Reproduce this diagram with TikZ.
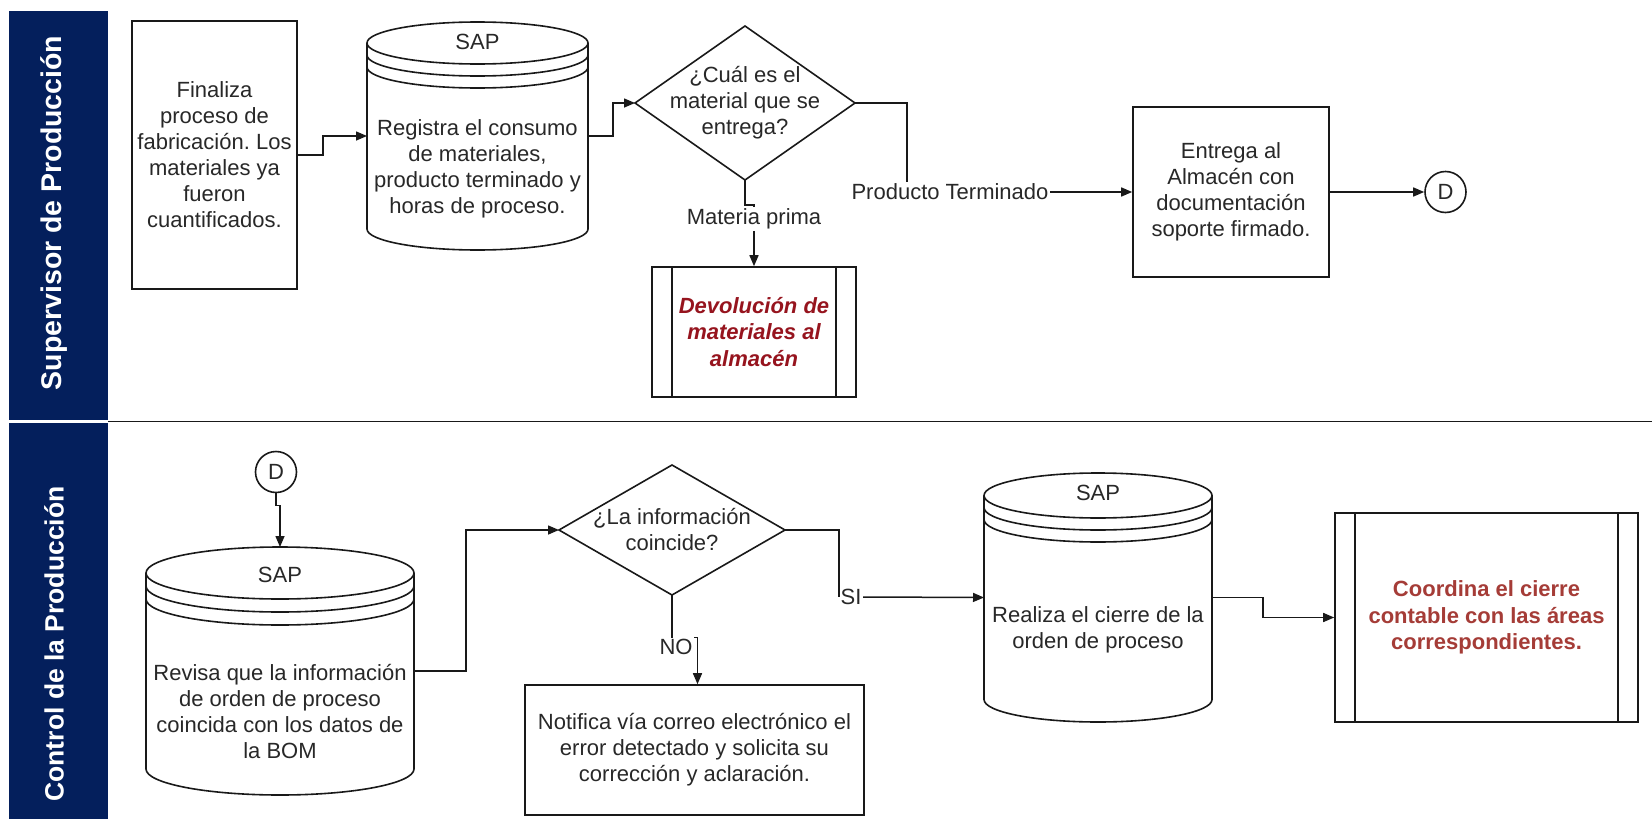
\documentclass[tikz,border=0pt]{standalone}
\usepackage{fontspec}
\setmainfont{Liberation Sans}
\usetikzlibrary{arrows.meta,calc}
\frenchspacing

\definecolor{lanenavy}{RGB}{4,31,92}
\definecolor{inkgray}{RGB}{40,40,40}
\definecolor{linegray}{RGB}{25,25,25}
\definecolor{subred}{RGB}{150,20,30}
\definecolor{subredlight}{RGB}{165,60,55}

\tikzset{
  body/.style={font=\fontsize{22}{26}\selectfont, text=inkgray, align=center, inner sep=0pt},
  outline/.style={draw=linegray, line width=1.6pt},
  procbox/.style={outline, body},
  conn/.style={draw=linegray, line width=1.5pt},
  arr/.style={conn, -{Triangle[length=11pt,width=9pt]}},
  lbl/.style={body, fill=white, inner sep=1.5pt},
  lanetitle/.style={rotate=90, text=white},
  offpage/.style={circle, outline, body, minimum size=41pt, inner sep=0pt},
  anchorbox/.style={rectangle, inner sep=0pt, outer sep=0pt},
}

% data store: #1 centre x, #2 top, #3 half width, #4 bottom, #5 cap radius, #6 band gap
\newcommand{\datastore}[6]{%
  \draw[outline] (#1-#3,#2+#5) -- (#1-#3,#4-#5)
    arc[start angle=180,end angle=360,x radius=#3pt,y radius=#5pt]
    -- (#1+#3,#2+#5);
  \draw[outline] (#1,#2+#5) ellipse[x radius=#3pt,y radius=#5pt];
  \draw[outline] (#1-#3,#2+#5+#6)
    arc[start angle=180,end angle=360,x radius=#3pt,y radius=#5pt];
  \draw[outline] (#1-#3,#2+#5+2*#6)
    arc[start angle=180,end angle=360,x radius=#3pt,y radius=#5pt];
}

\begin{document}
\begin{tikzpicture}[x=1pt,y=-1pt]
\useasboundingbox (0,0) rectangle (1652,819);
\fill[white] (0,0) rectangle (1652,819);

% swimlanes
\fill[lanenavy] (9,11) rectangle (108,420);
\fill[lanenavy] (9,423) rectangle (108,819);
\draw[draw=linegray, line width=1.5pt] (108,421.5) -- (1652,421.5);
\node[lanetitle, font=\fontsize{28.5}{30}\selectfont\bfseries] (lane1) at (54,213)
  {Supervisor de Producción};
\node[lanetitle, font=\fontsize{26.5}{30}\selectfont\bfseries] (lane2) at (54,644)
  {Control de la Producción};

% ---- lane 1 ----
\node[procbox, minimum width=165pt, minimum height=268pt] (fin) at (214.5,155)
  {Finaliza\\proceso de\\fabricación. Los\\materiales ya\\fueron\\cuantificados.};

\datastore{477.5}{22}{110.5}{250}{21}{12}
\node[anchorbox, minimum width=221pt, minimum height=228pt] (reg) at (477.5,136) {};
\node[body] (regsap) at (477.5,42) {SAP};
\node[body] (regtxt) at (477.5,169)
  {Registra el consumo\\de materiales,\\producto terminado y\\horas de proceso.};

\node[anchorbox, body, minimum width=220pt, minimum height=154pt] (q1) at (745,103)
  {¿Cuál es el\\material que se\\entrega?};
\draw[outline] (q1.north) -- (q1.east) -- (q1.south) -- (q1.west) -- cycle;

\node[procbox, minimum width=204pt, minimum height=130pt, text=subred,
      font=\fontsize{22}{26.5}\selectfont\bfseries\itshape] (dev) at (754,332)
  {Devolución de\\materiales al\\almacén};
\draw[outline] ([xshift=21pt]dev.north west) -- ([xshift=21pt]dev.south west);
\draw[outline] ([xshift=-21pt]dev.north east) -- ([xshift=-21pt]dev.south east);

\node[procbox, minimum width=196pt, minimum height=170pt] (ent) at (1231,192)
  {Entrega al\\Almacén con\\documentación\\soporte firmado.};

\node[offpage] (d1) at (1445.5,192) {D};

% ---- lane 2 ----
\node[offpage] (d2) at (276,472) {D};

\datastore{280}{547}{134}{795}{26}{13}
\node[anchorbox, minimum width=268pt, minimum height=248pt] (rev) at (280,671) {};
\node[body] (revsap) at (280,575) {SAP};
\node[body] (revtxt) at (280,711)
  {Revisa que la información\\de orden de proceso\\coincida con los datos de\\la BOM};

\node[anchorbox, body, minimum width=226pt, minimum height=130pt] (q2) at (672,530)
  {¿La información\\coincide?};
\draw[outline] (q2.north) -- (q2.east) -- (q2.south) -- (q2.west) -- cycle;

\node[procbox, minimum width=339pt, minimum height=130pt] (noti) at (694.5,750)
  {Notifica vía correo electrónico el\\error detectado y solicita su\\corrección y aclaración.};

\datastore{1098}{473}{114}{722}{22.5}{12}
\node[anchorbox, minimum width=228pt, minimum height=249pt] (cie) at (1098,597.5) {};
\node[body] (ciesap) at (1098,493) {SAP};
\node[body] (cietxt) at (1098,630) {Realiza el cierre de la\\orden de proceso};

\node[procbox, minimum width=303pt, minimum height=209pt, text=subredlight,
      font=\fontsize{22}{26.5}\selectfont\bfseries] (coo) at (1486.5,617.5)
  {Coordina el cierre\\contable con las áreas\\correspondientes.};
\draw[outline] ([xshift=21pt]coo.north west) -- ([xshift=21pt]coo.south west);
\draw[outline] ([xshift=-21pt]coo.north east) -- ([xshift=-21pt]coo.south east);

% connector labels
\node[lbl] (mp) at (754,219) {Materia prima};
\node[lbl] (pt) at (950,192) {Producto Terminado};
\node[lbl] (si) at (851,597) {SI};
\node[lbl] (no) at (676,647) {NO};

% connectors
\draw[arr] (fin.east) -- ++(25,0) |- (reg.west);
\draw[arr] (reg.east) -- ++(25,0) |- (q1.west);
\draw[conn] (q1.south) -- ++(0,25) -| (mp.north);
\draw[arr] (mp.south) -- (dev.north);
\draw[conn] (q1.east) -| ([xshift=-43pt]pt.north);
\draw[arr] (pt.east) -- (ent.west);
\draw[arr] (ent.east) -- (d1.west);

\draw[arr] (d2.south) -- ++(0,12) -| (rev.north);
\draw[arr] (rev.east) -- ++(52,0) |- (q2.west);
\draw[conn] (q2.east) -| (si.west);
\draw[arr] (si.east) -- (cie.west);
\draw[conn] (q2.south) -- (q2.south |- no.north);
\draw[arr] (no.north east) -| ([xshift=3pt]noti.north);
\draw[arr] (cie.east) -- ++(51,0) |- (coo.west);
\end{tikzpicture}
\end{document}
